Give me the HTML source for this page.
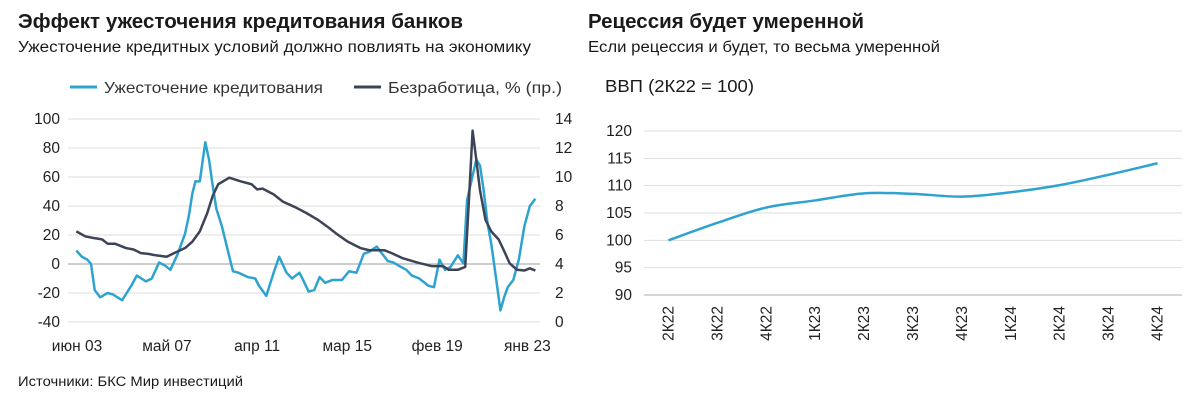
<!DOCTYPE html>
<html><head><meta charset="utf-8">
<style>
body{margin:0;background:#fff;width:1197px;height:400px;overflow:hidden;font-family:"Liberation Sans",sans-serif;}
svg text{font-family:"Liberation Sans",sans-serif;}
</style></head>
<body>
<svg id="chart" width="1197" height="400" xmlns="http://www.w3.org/2000/svg">
<text x="18" y="28" font-size="20" font-weight="bold" fill="#1a1a1a" textLength="445" lengthAdjust="spacingAndGlyphs">Эффект ужесточения кредитования банков</text>
<text x="18" y="52" font-size="15.5" fill="#1a1a1a" textLength="513" lengthAdjust="spacingAndGlyphs">Ужесточение кредитных условий должно повлиять на экономику</text>
<g>
<line x1="70" y1="87" x2="97" y2="87" stroke="#2ea3d0" stroke-width="3"/>
<text x="104" y="93" font-size="16" fill="#333" textLength="219" lengthAdjust="spacingAndGlyphs">Ужесточение кредитования</text>
<line x1="354" y1="87" x2="381" y2="87" stroke="#3d4458" stroke-width="3"/>
<text x="388" y="93" font-size="16" fill="#333" textLength="174" lengthAdjust="spacingAndGlyphs">Безработица, % (пр.)</text>
</g>
<text x="588" y="28" font-size="20" font-weight="bold" fill="#1a1a1a" textLength="276" lengthAdjust="spacingAndGlyphs">Рецессия будет умеренной</text>
<text x="588" y="52" font-size="15.5" fill="#1a1a1a" textLength="352" lengthAdjust="spacingAndGlyphs">Если рецессия и будет, то весьма умеренной</text>
<text x="605" y="92" font-size="17.5" fill="#1a1a1a" textLength="149" lengthAdjust="spacingAndGlyphs">ВВП (2К22 = 100)</text>
<text x="18" y="386" font-size="13.5" fill="#1a1a1a" textLength="225" lengthAdjust="spacingAndGlyphs">Источники: БКС Мир инвестиций</text>
<g id="left"></g>
<g id="right"></g>
</svg>
<script>
const leftTicks=[100,80,60,40,20,0,-20,-40];
const rightTicks=[14,12,10,8,6,4,2,0];
const xTickLabels=["июн 03","май 07","апр 11","мар 15","фев 19","янв 23"];
const xTickDates=[2003.42,2007.33,2011.25,2015.17,2019.08,2023.0];
const tightDates=[2003.39,2003.63,2003.87,2004.03,2004.19,2004.43,2004.75,2004.98,2005.38,2005.78,2006.02,2006.42,2006.67,2006.99,2007.24,2007.48,2007.80,2008.12,2008.28,2008.44,2008.57,2008.76,2008.89,2009.00,2009.16,2009.32,2009.48,2009.72,2010.20,2010.44,2010.84,2011.17,2011.33,2011.65,2011.97,2012.21,2012.53,2012.77,2013.09,2013.25,2013.49,2013.73,2013.97,2014.21,2014.53,2014.94,2015.25,2015.57,2015.89,2016.13,2016.45,2016.69,2016.94,2017.18,2017.50,2017.74,2017.98,2018.30,2018.70,2018.94,2019.18,2019.42,2019.66,2019.98,2020.22,2020.38,2020.62,2020.78,2020.94,2021.10,2021.27,2021.43,2021.59,2021.83,2021.99,2022.15,2022.39,2022.63,2022.87,2023.11,2023.35];
const tightValues=[9.3,5,3,0,-18,-23,-20,-21,-25,-15,-8,-12,-10,1,-1,-4,7,21,33,49,57,57,72,84,72,54,38,26,-5,-6,-9,-10,-15,-22,-6,5,-6,-10,-6,-11,-19,-18,-9,-13,-11,-11,-5,-6,7,8.5,12,7,2,1,-2,-4,-8,-10,-15,-16,3,-4,-2,6,0.5,44,61,72,68,51,28,14,-4,-32,-23,-16,-11,3,26,40,45];
const unempDates=[2003.39,2003.79,2004.11,2004.51,2004.75,2005.07,2005.55,2005.88,2006.20,2006.52,2006.84,2007.32,2007.64,2008.12,2008.44,2008.76,2009.08,2009.32,2009.56,2010.04,2010.53,2011.01,2011.25,2011.49,2011.97,2012.37,2012.93,2013.41,2013.89,2014.37,2014.69,2015.18,2015.74,2016.13,2016.78,2017.10,2017.58,2018.22,2018.86,2019.34,2019.58,2019.98,2020.30,2020.46,2020.62,2020.78,2020.94,2021.18,2021.43,2021.75,2021.99,2022.23,2022.55,2022.87,2023.11,2023.35];
const unempValues=[6.25,5.9,5.8,5.7,5.4,5.4,5.1,5.0,4.75,4.7,4.6,4.5,4.75,5.1,5.55,6.25,7.5,8.7,9.5,9.95,9.7,9.5,9.15,9.2,8.8,8.3,7.9,7.5,7.05,6.5,6.1,5.55,5.1,4.95,4.95,4.75,4.4,4.1,3.85,3.85,3.6,3.6,3.8,8.4,13.2,11.2,9.1,7.05,6.25,5.7,4.9,4.05,3.6,3.55,3.7,3.55];
const gdpCategories=["2К22","3К22","4К22","1К23","2К23","3К23","4К23","1К24","2К24","3К24","4К24"];
const gdpValues=[100,103.2,106,107.3,108.6,108.5,108,108.8,110.1,112,114.1];
const gdpTicks=[120,115,110,105,100,95,90];

const NS="http://www.w3.org/2000/svg";
function mk(parent,tag,attrs){const e=document.createElementNS(NS,tag);for(const k in attrs)e.setAttribute(k,attrs[k]);parent.appendChild(e);return e;}

const L=document.getElementById('left');
const yLeft=v=>119+(100-v)*(203/140);
const yRight=v=>119+(14-v)*(203/14);
const xL=t=>77+(t-2003.42)*23.0;
leftTicks.forEach(v=>{
  const g=mk(L,'line',{x1:68,x2:540,y1:yLeft(v),y2:yLeft(v),stroke:v===0?'#bdbdbd':'#dedede','stroke-width':v===0?1.5:1});
  
  
  const t=mk(L,'text',{x:60,y:yLeft(v)+5,'text-anchor':'end','font-size':15.5,fill:'#222'});
  t.textContent=v;
  
  
});
rightTicks.forEach(v=>{
  const t=mk(L,'text',{x:555,y:yRight(v)+5,'font-size':15.5,fill:'#222'});
  t.textContent=v;
  
  
});
xTickLabels.forEach((s,i)=>{
  const t=mk(L,'text',{x:xL(xTickDates[i]),y:351,'text-anchor':'middle','font-size':15.5,fill:'#222'});
  t.textContent=s;
  
  
});
const p1=mk(L,'polyline',{points:tightDates.map((d,i)=>xL(d)+','+yLeft(tightValues[i])).join(' '),fill:'none',stroke:'#2ea3d0','stroke-width':2.5,'stroke-linejoin':'round'});


const p2=mk(L,'polyline',{points:unempDates.map((d,i)=>xL(d)+','+yRight(unempValues[i])).join(' '),fill:'none',stroke:'#3d4458','stroke-width':2.5,'stroke-linejoin':'round'});



const R=document.getElementById('right');
const yG=v=>131+(120-v)*(164/30);
const band=(1182-644)/gdpCategories.length;
const xG=i=>644+band*(i+0.5);
gdpTicks.forEach(v=>{
  const g=mk(R,'line',{x1:644,x2:1182,y1:yG(v),y2:yG(v),stroke:v===90?'#c8c8c8':'#dedede','stroke-width':v===90?1.5:1});
  
  
  const t=mk(R,'text',{x:632,y:yG(v)+5,'text-anchor':'end','font-size':15.5,fill:'#222'});
  t.textContent=v;
  
  
});
gdpCategories.forEach((c,i)=>{
  const x=xG(i)+5,y=306;
  const t=mk(R,'text',{x:x,y:y,'text-anchor':'end','font-size':15.5,fill:'#222',transform:`rotate(-90 ${x} ${y})`});
  t.textContent=c;
  
  
});
const pts=gdpValues.map((v,i)=>[xG(i),yG(v)]);
let d='M'+pts[0][0]+','+pts[0][1];
for(let i=0;i<pts.length-1;i++){
  const p0=pts[Math.max(0,i-1)],pa=pts[i],pb=pts[i+1],p3=pts[Math.min(pts.length-1,i+2)];
  const c1=[pa[0]+(pb[0]-p0[0])/6,pa[1]+(pb[1]-p0[1])/6];
  const c2=[pb[0]-(p3[0]-pa[0])/6,pb[1]-(p3[1]-pa[1])/6];
  d+=` C${c1[0]},${c1[1]} ${c2[0]},${c2[1]} ${pb[0]},${pb[1]}`;
}
const gl=mk(R,'path',{d:d,fill:'none',stroke:'#2ea3d0','stroke-width':2.5});


</script>
</body></html>
